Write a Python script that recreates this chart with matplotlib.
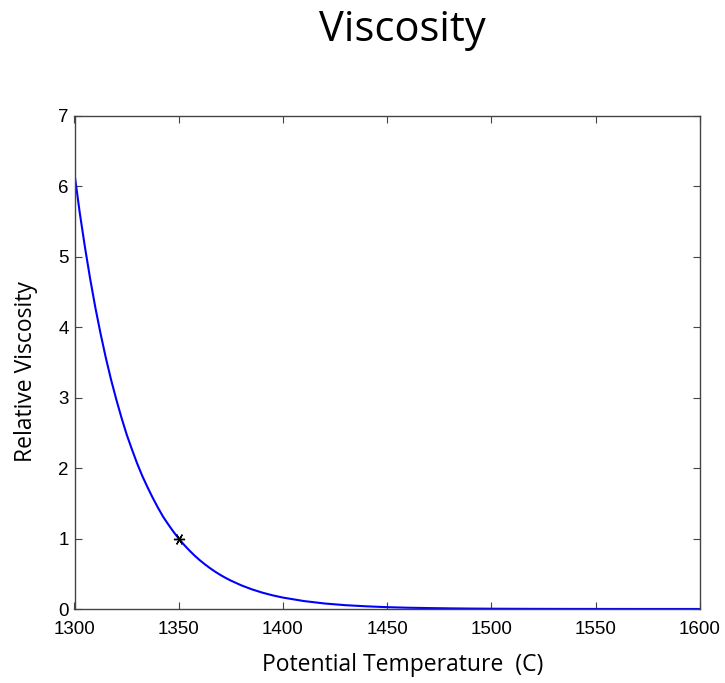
import matplotlib
matplotlib.use("Agg")
import matplotlib.pyplot as plt

# Data
temperature = [1300, 1302.5, 1305, 1307.5, 1310, 1312.5, 1315, 1317.5, 1320, 1322.5,
               1325, 1327.5, 1330, 1332.5, 1335, 1337.5, 1340, 1342.5, 1345, 1347.5,
               1350, 1352.5, 1355, 1357.5, 1360, 1362.5, 1365, 1367.5, 1370, 1372.5,
               1375, 1380, 1385, 1390, 1395, 1400,
               1410, 1420, 1430, 1440, 1450, 1460, 1470, 1480, 1490, 1500,
               1520, 1540, 1560, 1580, 1600]
viscosity = [6.18, 5.63, 5.14, 4.69, 4.28, 3.91, 3.57, 3.26, 2.98, 2.72,
             2.48, 2.27, 2.07, 1.89, 1.73, 1.58, 1.44, 1.31, 1.20, 1.095,
             1.00, 0.913, 0.834, 0.761, 0.695, 0.635, 0.580, 0.529, 0.483, 0.441,
             0.403, 0.336, 0.280, 0.233, 0.194, 0.162,
             0.113, 0.078, 0.054, 0.038, 0.026, 0.018, 0.013, 0.009, 0.006, 0.004,
             0.002, 0.001, 0.0005, 0.0003, 0.0002]
ref_point_t = [1350]
ref_point_v = [1.0]
xticks = [1300, 1350, 1400, 1450, 1500, 1550, 1600]
yticks = [0, 1, 2, 3, 4, 5, 6, 7]

fig = plt.figure(figsize=(7.25, 6.83), dpi=100)
ax = fig.add_axes([74.5/725, 1 - 609/683, (700 - 74.5)/725, (609 - 116)/683])

ax.plot(temperature, viscosity, color="#0000ff", lw=1.5)
ax.plot(ref_point_t, ref_point_v, linestyle="none", marker=(6, 2, 90),
        markersize=8, color="black", markeredgewidth=1.0)

ax.set_xlim(1300, 1600)
ax.set_ylim(0, 7)
ax.set_xticks(xticks)
ax.set_yticks(yticks)
ax.set_xticklabels([str(t) for t in xticks], family="Liberation Sans", fontsize=13.5)
ax.set_yticklabels([str(t) for t in yticks], family="Liberation Sans", fontsize=13.5)
ax.tick_params(direction="in", length=5, width=0.8, color="#444444",
               top=True, right=True)
ax.tick_params(axis="x", pad=9)
ax.tick_params(axis="y", pad=4)
for s in ax.spines.values():
    s.set_color("#444444")
    s.set_linewidth(1.0)

fig.text(402/725, 1 - 30/683, "Viscosity", ha="center", va="center",
         family="Open Sans", fontsize=30)
fig.text(403/725, 1 - 665/683, "Potential Temperature  (C)", ha="center", va="center",
         family="Open Sans", fontsize=16.5)
fig.text(26/725, 1 - 372/683, "Relative Viscosity", ha="center", va="center",
         rotation=90, family="Open Sans", fontsize=16.5)

fig.savefig("out.png", dpi=100)
